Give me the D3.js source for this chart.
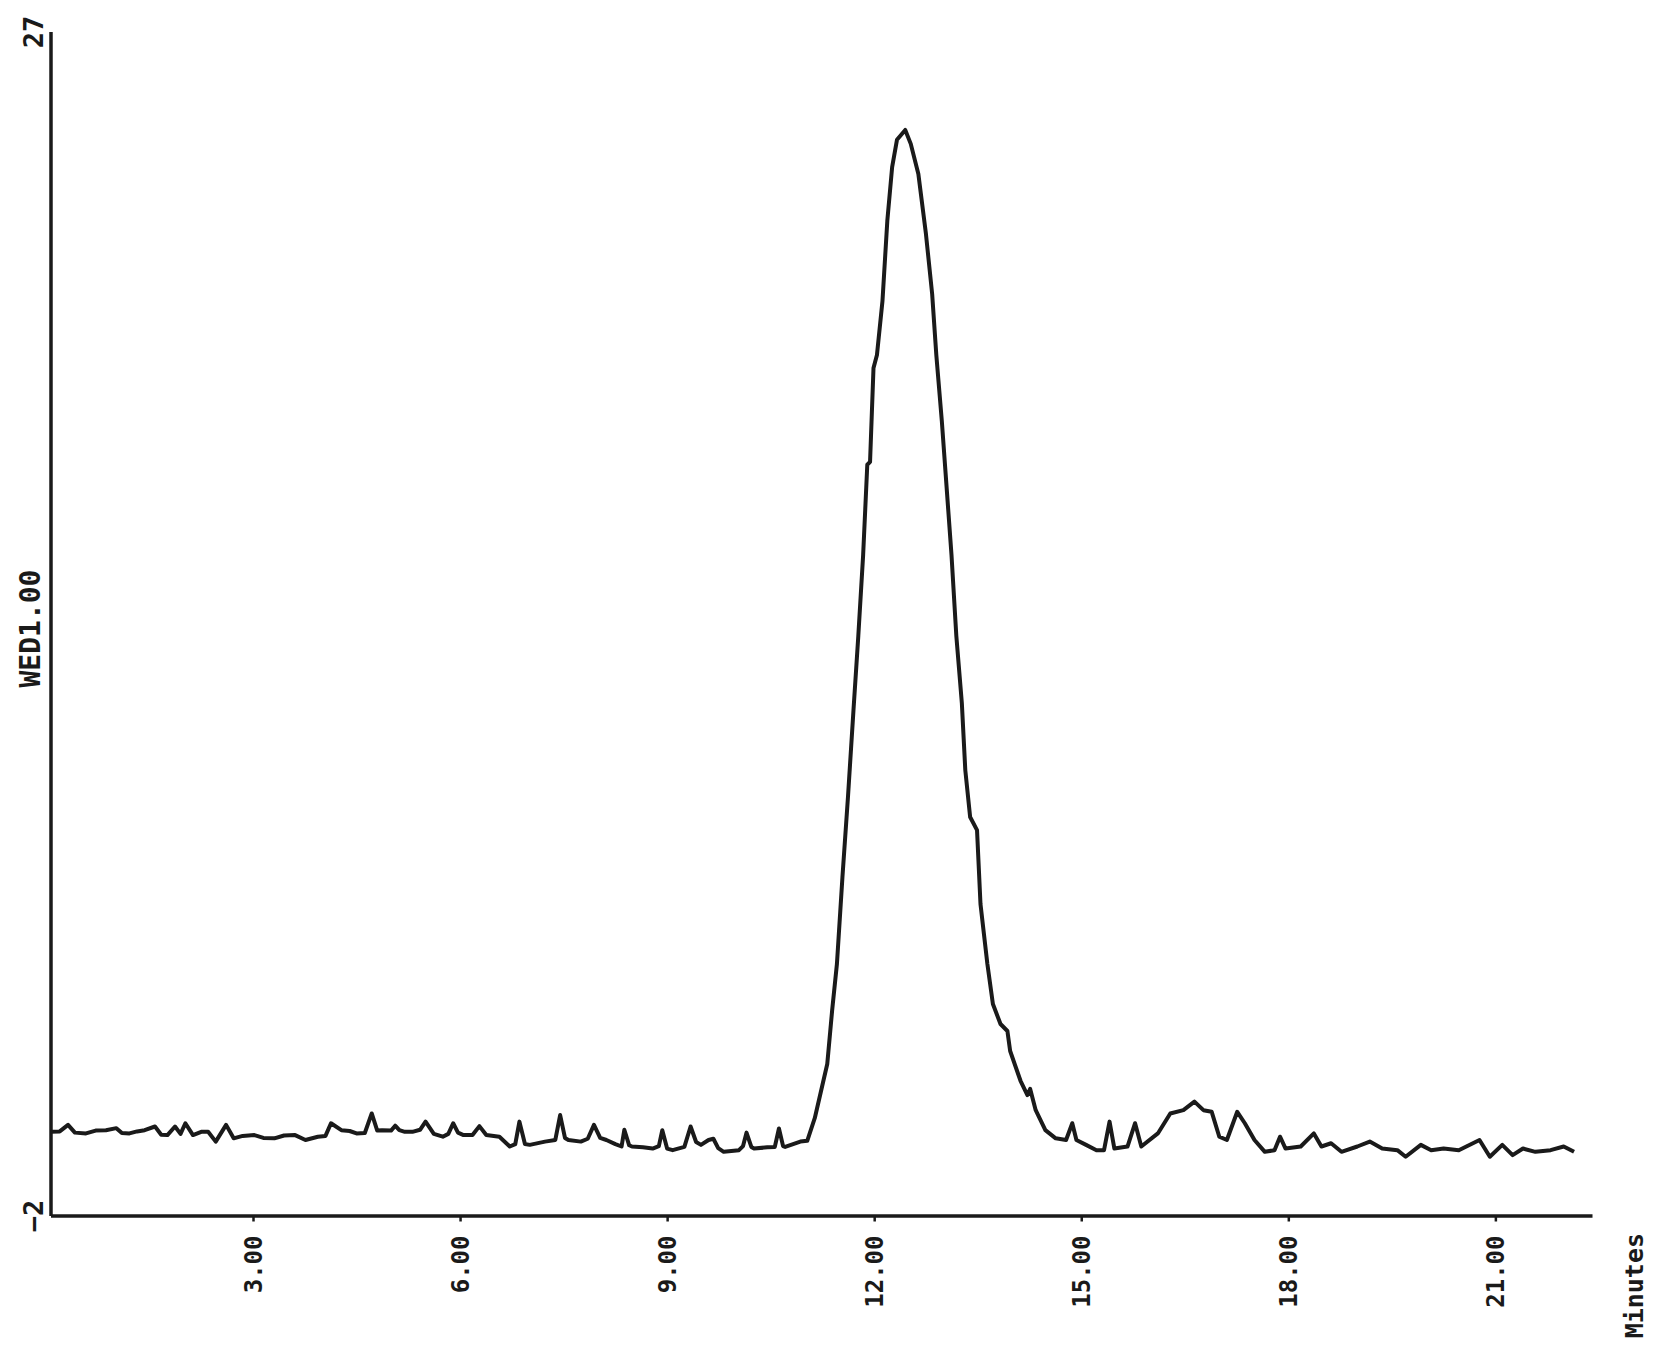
<!DOCTYPE html>
<html>
<head>
<meta charset="utf-8">
<script src="https://cdn.jsdelivr.net/npm/d3@7"></script>
<style>
  html, body { margin: 0; padding: 0; background: #fff; }
  svg { display: block; }
  text { font-family: "DejaVu Sans Mono", "Liberation Mono", monospace; font-weight: bold; fill: #1a1a1a; }
</style>
</head>
<body>
<svg id="chart" width="1653" height="1348"></svg>
<script>
// ---- data ----
const times = [
  0.07, 0.20, 0.32, 0.42, 0.58, 0.72, 0.87, 1.02, 1.10, 1.21, 1.32, 1.43, 1.58, 1.67, 1.76, 1.87, 1.95,
  2.02, 2.13, 2.25, 2.35, 2.46, 2.61, 2.72, 2.85, 3.02, 3.15, 3.31, 3.45, 3.61, 3.76, 3.94, 4.05,
  4.13, 4.28, 4.40, 4.50, 4.62, 4.72, 4.80, 4.87, 5.00, 5.06, 5.12, 5.20, 5.31, 5.42, 5.50, 5.62,
  5.75, 5.83, 5.90, 5.97, 6.05, 6.18, 6.28, 6.38, 6.57, 6.72, 6.80, 6.86, 6.94, 7.01, 7.23, 7.38,
  7.45, 7.52, 7.57, 7.75, 7.85, 7.94, 8.03, 8.12, 8.25, 8.34, 8.38, 8.45, 8.49, 8.65, 8.79, 8.88,
  8.93, 9.00, 9.08, 9.25, 9.34, 9.42, 9.49, 9.60, 9.67, 9.74, 9.82, 10.04, 10.10, 10.15, 10.22,
  10.26, 10.45, 10.56, 10.62, 10.68, 10.71, 10.93, 11.03, 11.14, 11.32, 11.39, 11.46, 11.54, 11.62,
  11.70, 11.77, 11.84, 11.90, 11.94, 11.99, 12.04, 12.12, 12.19, 12.26, 12.33, 12.45, 12.53, 12.64,
  12.75, 12.84, 12.90, 12.98, 13.05, 13.12, 13.19, 13.27, 13.32, 13.39, 13.49, 13.54, 13.64, 13.72,
  13.83, 13.93, 13.97, 14.12, 14.22, 14.26, 14.34, 14.48, 14.63, 14.78, 14.87, 14.93, 15.07, 15.22,
  15.33, 15.41, 15.48, 15.67, 15.78, 15.87, 16.11, 16.29, 16.48, 16.64, 16.77, 16.89, 17.00, 17.11,
  17.26, 17.37, 17.51, 17.66, 17.80, 17.88, 17.96, 18.18, 18.37, 18.48, 18.62, 18.77, 19.00, 19.18,
  19.36, 19.58, 19.70, 19.92, 20.07, 20.25, 20.47, 20.77, 20.92, 21.10, 21.25, 21.40, 21.58, 21.80,
  21.99, 22.14
];
const signal = [
  0.05, 0.06, 0.22, 0.03, 0.01, 0.08, 0.09, 0.14, 0.02, 0.01, 0.06, 0.09, 0.18, -0.02, -0.03, 0.18, 0.00,
  0.26, -0.03, 0.05, 0.05, -0.19, 0.22, -0.11, -0.05, -0.03, -0.10, -0.11, -0.04, -0.03, -0.15, -0.07, -0.05,
  0.26, 0.09, 0.07, 0.01, 0.02, 0.50, 0.08, 0.09, 0.08, 0.20, 0.09, 0.05, 0.05, 0.10, 0.30, 0.00,
  -0.07, 0.00, 0.26, 0.03, -0.03, -0.03, 0.19, -0.03, -0.07, -0.31, -0.25, 0.30, -0.25, -0.27, -0.19, -0.15,
  0.46, -0.10, -0.15, -0.19, -0.12, 0.22, -0.10, -0.15, -0.25, -0.31, 0.10, -0.28, -0.31, -0.33, -0.36, -0.30,
  0.09, -0.36, -0.40, -0.32, 0.18, -0.20, -0.27, -0.15, -0.12, -0.35, -0.44, -0.40, -0.30, 0.03, -0.32,
  -0.36, -0.33, -0.32, 0.13, -0.30, -0.32, -0.19, -0.17, 0.39, 1.71, 3.01, 4.16, 6.29, 8.25,
  10.38, 12.20, 14.18, 16.39, 16.46, 18.76, 19.08, 20.40, 22.36, 23.68, 24.35, 24.59, 24.25, 23.51,
  22.04, 20.57, 19.08, 17.46, 15.82, 14.18, 12.20, 10.55, 8.91, 7.76, 7.44, 5.63, 4.16, 3.18,
  2.69, 2.52, 2.03, 1.30, 0.95, 1.10, 0.58, 0.09, -0.11, -0.15, 0.26, -0.15, -0.27, -0.40,
  -0.40, 0.30, -0.36, -0.31, 0.26, -0.31, 0.01, 0.50, 0.58, 0.79, 0.58, 0.54, -0.07, -0.15,
  0.54, 0.26, -0.15, -0.44, -0.40, -0.07, -0.36, -0.31, 0.01, -0.31, -0.23, -0.44, -0.31, -0.19,
  -0.36, -0.40, -0.56, -0.27, -0.40, -0.36, -0.40, -0.15, -0.56, -0.27, -0.52, -0.36, -0.44, -0.40,
  -0.31, -0.44
];
const xTicks = [3, 6, 9, 12, 15, 18, 21];
const yTicks = [-2, 27];
const xTitle = "Minutes";
const yTitle = "WED1.00";

// ---- drawing ----
const svg = d3.select("#chart");
const x = d3.scaleLinear().domain([0.066, 22.4]).range([50.5, 1592]);
const y = d3.scaleLinear().domain([-2, 27]).range([1215.5, 31.6]);
const ink = "#1a1a1a";

// x axis
const gx = svg.append("g").attr("transform", `translate(0,${y(-2)})`)
  .call(d3.axisBottom(x).tickValues(xTicks).tickSize(6).tickSizeOuter(0).tickFormat(d3.format(".2f")));
gx.select(".domain").attr("stroke", ink).attr("stroke-width", 3.5);
gx.selectAll(".tick line").attr("stroke", ink).attr("stroke-width", 2.5);
gx.selectAll(".tick text")
  .attr("font-family", null).attr("font-size", null)
  .style("font-size", "24px")
  .attr("text-anchor", "end")
  .attr("y", 0).attr("dy", "0.35em")
  .attr("transform", "translate(0,20) rotate(-90)");

// y axis
const gy = svg.append("g").attr("transform", `translate(${x(0.066)},0)`)
  .call(d3.axisLeft(y).tickValues(yTicks).tickSize(0).tickSizeOuter(0).tickFormat(d3.format("d")));
gy.select(".domain").attr("stroke", ink).attr("stroke-width", 3.5);
gy.selectAll(".tick text")
  .attr("font-family", null).attr("font-size", null)
  .style("font-size", "27px")
  .attr("text-anchor", "middle")
  .attr("x", 0).attr("dy", "0.35em")
  .attr("transform", "translate(-17,0) rotate(-90)");

// titles
svg.append("text")
  .attr("transform", `translate(30,${(y(27) + y(-2)) / 2 + 5}) rotate(-90)`)
  .attr("text-anchor", "middle").attr("dy", "0.35em")
  .style("font-size", "28px")
  .text(yTitle);
svg.append("text")
  .attr("transform", `translate(1634,1233) rotate(-90)`)
  .attr("text-anchor", "end").attr("dy", "0.35em")
  .style("font-size", "25px")
  .text(xTitle);

// signal trace
const pts = times.map((t, i) => [t, signal[i]]);
svg.append("path")
  .datum(pts)
  .attr("fill", "none")
  .attr("stroke", ink)
  .attr("stroke-width", 4)
  .attr("stroke-linejoin", "round")
  .attr("d", d3.line().x(d => x(d[0])).y(d => y(d[1])));
</script>
</body>
</html>
